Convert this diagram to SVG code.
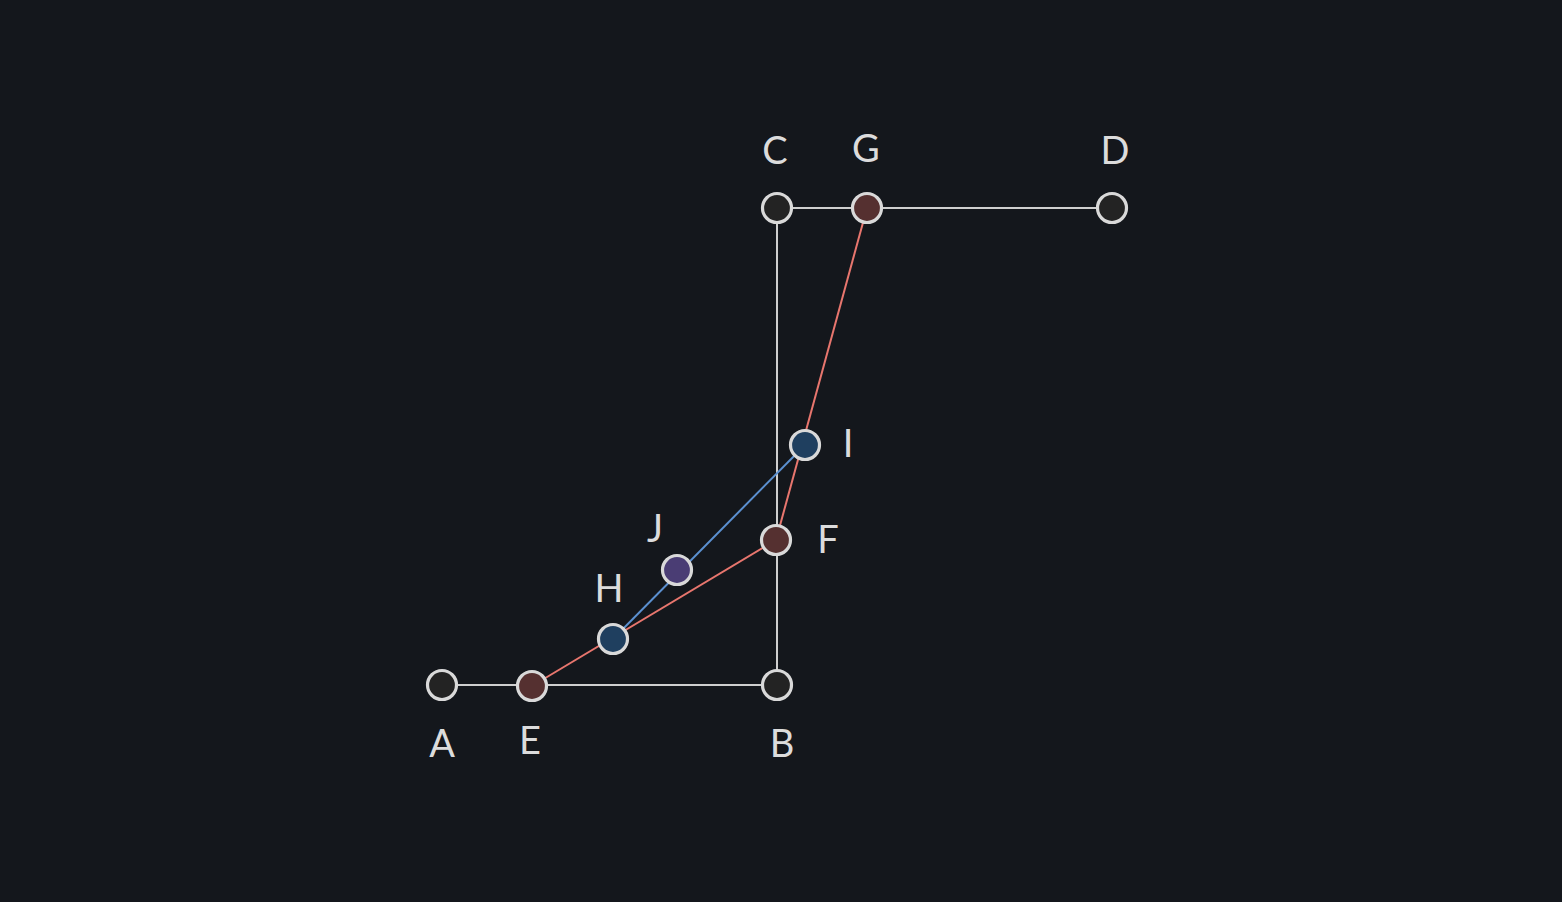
<svg xmlns="http://www.w3.org/2000/svg" width="1562" height="902" viewBox="0 0 1562 902">
<style>
.n{stroke:#d9d9d9;stroke-width:3.2}
.k{fill:#232323}.r{fill:#553030}.b{fill:#1f3f5f}.p{fill:#4a3d74}
.g{stroke:#cfcfcf;stroke-width:2;fill:none}
.rl{stroke:#e8766e;stroke-width:2;fill:none}
.bl{stroke:#5b90d0;stroke-width:2;fill:none}
text{font-family:"Lato","Noto Sans",sans-serif;font-size:38px;fill:#dcdcdc;text-anchor:middle}
</style>
<rect width="1562" height="902" fill="#14171c"/>
<g id="connectors">
<line class="g" x1="442" y1="685" x2="777" y2="685"/>
<line class="g" x1="777" y1="685" x2="777" y2="208"/>
<line class="g" x1="777" y1="208" x2="1112" y2="208"/>
<line class="rl" x1="532" y1="686" x2="776" y2="540"/>
<line class="rl" x1="776" y1="540" x2="867" y2="208"/>
<line class="bl" x1="613" y1="639" x2="805" y2="445"/>
</g>
<g id="A"><circle class="n k" cx="442" cy="685" r="14.5"/><text x="442" y="757">A</text></g>
<g id="E"><circle class="n r" cx="532" cy="686" r="14.5"/><text x="530" y="754">E</text></g>
<g id="B"><circle class="n k" cx="777" cy="685" r="14.5"/><text x="782" y="757">B</text></g>
<g id="C"><circle class="n k" cx="777" cy="208" r="14.5"/><text x="775" y="164">C</text></g>
<g id="G"><circle class="n r" cx="867" cy="208" r="14.5"/><text x="866" y="162">G</text></g>
<g id="D"><circle class="n k" cx="1112" cy="208" r="14.5"/><text x="1115" y="164">D</text></g>
<g id="I"><circle class="n b" cx="805" cy="445" r="14.5"/><text x="848" y="457">I</text></g>
<g id="F"><circle class="n r" cx="776" cy="540" r="14.5"/><text x="828" y="553">F</text></g>
<g id="J"><circle class="n p" cx="677" cy="570" r="14.5"/><text x="655" y="542">J</text></g>
<g id="H"><circle class="n b" cx="613" cy="639" r="14.5"/><text x="609" y="602">H</text></g>
</svg>
